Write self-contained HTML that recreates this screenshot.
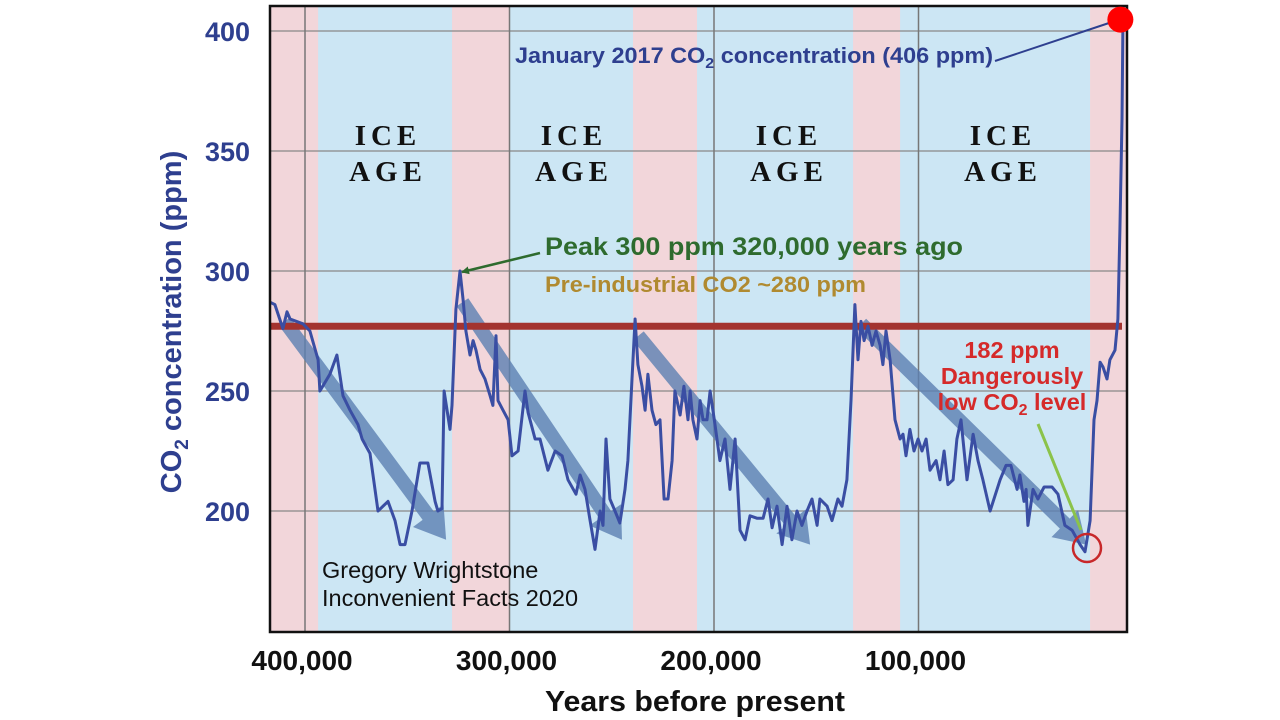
<!DOCTYPE html>
<html><head><meta charset="utf-8">
<style>
html,body{margin:0;padding:0;background:#fff;}
svg{display:block;font-family:"Liberation Sans",sans-serif;}
</style></head>
<body>
<svg id="chart" width="1280" height="720" viewBox="0 0 1280 720" xmlns="http://www.w3.org/2000/svg">
<defs>
<marker id="garrow" markerWidth="8" markerHeight="8" refX="7" refY="4" orient="auto" markerUnits="userSpaceOnUse"><path d="M0,0 L8,4 L0,8 Z" fill="#2e6b2e"/></marker>
</defs>
<g id="bands"></g>
<g id="grid"></g>
<g id="trends"></g>
<line id="preline" stroke="#a3332f" stroke-width="7"/>
<polyline id="series" fill="none" stroke="#3a4ea3" stroke-width="3" stroke-linejoin="round"/>
<rect x="270" y="6" width="857" height="626" fill="none" stroke="#111" stroke-width="2.5"/>
<g id="ytick-labels"></g>
<g id="xtick-labels"></g>
<text transform="translate(181,322) rotate(-90)" text-anchor="middle" font-size="29" font-weight="bold" fill="#2e3f8f">CO<tspan font-size="19" dy="7">2</tspan><tspan dy="-7"> concentration (ppm)</tspan></text>
<text x="695" y="711" text-anchor="middle" font-size="29" font-weight="bold" fill="#111" textLength="300" lengthAdjust="spacingAndGlyphs">Years before present</text>
<g font-family="'Liberation Serif',serif" font-weight="bold" font-size="29" fill="#111" text-anchor="middle" letter-spacing="5">
<text x="388" y="145">ICE<tspan x="388" dy="36">AGE</tspan></text>
<text x="574" y="145">ICE<tspan x="574" dy="36">AGE</tspan></text>
<text x="789" y="145">ICE<tspan x="789" dy="36">AGE</tspan></text>
<text x="1003" y="145">ICE<tspan x="1003" dy="36">AGE</tspan></text>
</g>
<text x="515" y="63" font-size="22" font-weight="bold" fill="#2e3f8f" textLength="478" lengthAdjust="spacingAndGlyphs">January 2017 CO<tspan font-size="15" dy="5">2</tspan><tspan dy="-5"> concentration (406 ppm)</tspan></text>
<line x1="995" y1="61" x2="1112" y2="22" stroke="#2e3f8f" stroke-width="2"/>
<circle id="nowdot" r="13" fill="#f00"/>
<text x="545" y="255" font-size="25" font-weight="bold" fill="#2e6b2e" textLength="418" lengthAdjust="spacingAndGlyphs">Peak 300 ppm 320,000 years ago</text>
<line x1="540" y1="253" x2="462" y2="272" stroke="#2e6b2e" stroke-width="2.5" marker-end="url(#garrow)"/>
<text x="545" y="292" font-size="22" font-weight="bold" fill="#b08a30" textLength="321" lengthAdjust="spacingAndGlyphs">Pre-industrial CO2 ~280 ppm</text>
<g font-size="23.5" font-weight="bold" fill="#d52a2a" text-anchor="middle">
<text x="1012" y="358">182 ppm<tspan x="1012" dy="26">Dangerously</tspan><tspan x="1012" dy="26">low CO</tspan><tspan font-size="16" dy="5">2</tspan><tspan dy="-5"> level</tspan></text>
</g>
<line x1="1038" y1="424" x2="1081" y2="530" stroke="#8bc34a" stroke-width="3"/>
<circle cx="1087" cy="548" r="14" fill="none" stroke="#c8282a" stroke-width="2.5"/>
<text x="322" y="578" font-size="23.5" fill="#111">Gregory Wrightstone<tspan x="322" dy="28">Inconvenient Facts 2020</tspan></text>
</svg>
<script>
// data (years in thousands before present, CO2 ppm)
const years=[417.1,414.7,410.8,408.8,407.3,401.0,397.6,393.6,392.7,387.8,384.4,381.4,378.0,374.1,372.1,368.2,364.3,359.4,356.0,353.5,351.1,347.7,343.8,339.9,336.4,335.0,333.0,332.0,329.1,328.1,326.2,324.2,322.7,321.3,319.3,317.8,316.4,314.4,312.0,309.5,308.1,306.6,305.6,303.2,300.7,298.8,295.8,292.4,290.9,287.5,285.1,281.2,277.7,274.3,271.4,267.5,265.5,263.1,260.6,258.2,255.7,254.3,252.8,250.9,248.4,246.0,243.5,242.1,240.1,238.6,237.2,235.2,233.7,232.3,230.3,228.4,226.4,224.4,222.5,220.5,219.1,216.6,214.7,212.7,211.7,210.3,208.3,206.8,205.4,203.4,201.9,199.5,197.1,194.6,192.2,189.7,187.3,184.8,182.4,179.0,176.0,173.6,171.6,169.2,166.7,164.3,161.9,159.4,157.0,154.5,152.1,149.6,148.2,144.7,142.3,139.4,137.4,135.0,133.0,131.1,129.6,128.1,126.6,124.7,122.7,120.8,118.8,117.4,115.9,113.9,111.5,109.0,107.6,106.1,104.2,102.2,100.2,98.3,96.3,94.4,91.4,89.5,87.5,85.6,83.1,81.2,79.2,76.3,73.3,70.9,68.5,65.0,60.1,57.2,54.8,51.8,50.4,48.4,47.4,46.5,44.0,41.6,38.6,34.7,31.8,28.4,24.9,21.0,18.6,16.1,14.2,12.7,11.2,9.8,7.8,6.4,3.9,2.5,1.5,0.5,0];
const ppm=[287,286,276,283,280,278,275,263,250,257,265,248,242,236,230,224,200,204,196,186,186,200,220,220,204,200,201,250,234,244,284,300,288,275,265,271,267,259,255,248,244,273,246,242,238,223,225,250,241,230,230,217,225,223,213,207,215,209,196,184,200,194,230,205,200,195,209,221,255,280,261,252,242,257,242,236,238,205,205,221,250,240,252,238,250,238,230,246,238,238,250,236,221,230,209,230,192,188,198,197,197,205,193,202,186,202,188,200,194,200,205,194,205,202,196,205,202,213,246,286,263,279,271,277,269,275,269,261,275,263,238,230,232,223,234,225,230,225,230,217,221,213,225,211,213,230,238,213,232,221,213,200,213,219,219,209,215,204,209,194,209,205,210,210,207,194,192,186,183,196,238,246,262,260,255,263,267,280,317,363,406];
const interglacials=[[417,393.6],[328.1,299.8],[239.6,208.3],[132,109],[16.1,-2]];
const yTicks=[400,350,300,250,200];
const xTicks=[400,300,200,100];
const xTickLabels=["400,000","300,000","200,000","100,000"];
const trendStarts=[[410,279],[323,287],[237,273],[128,278]];
const trendEnds=[[331,188],[245,188],[153,186],[18,186]];
const preindustrial=277;
const nowPoint=[0.8,406];

const NS="http://www.w3.org/2000/svg";
const X=t=>305+(400-t)*2.045;
const Y=v=>31+(400-v)*2.4;
function mk(tag,attrs,parent){const e=document.createElementNS(NS,tag);for(const k in attrs)e.setAttribute(k,attrs[k]);parent.appendChild(e);return e;}
const bands=document.getElementById('bands');
const bg=mk('rect',{x:270,y:6,width:857,height:626,fill:'#cce6f4'},bands);


interglacials.forEach((b,i)=>{
  const x1=Math.max(270,X(b[0])),x2=Math.min(1127,X(b[1]));
  const r=mk('rect',{x:x1,y:6,width:x2-x1,height:626,fill:'#f2d6da'},bands);
  
  
});
const grid=document.getElementById('grid');
const yl=document.getElementById('ytick-labels');
yTicks.forEach(v=>{
  const l=mk('line',{x1:270,x2:1127,y1:Y(v),y2:Y(v),stroke:'#888','stroke-width':1.3},grid);
  
  
  const t=mk('text',{x:250,y:Y(v)+10,'text-anchor':'end','font-size':27,'font-weight':'bold',fill:'#2e3f8f'},yl);
  t.textContent=v;
  
  
});
const xl=document.getElementById('xtick-labels');
xTicks.forEach((v,i)=>{
  const l=mk('line',{x1:X(v),x2:X(v),y1:6,y2:632,stroke:'#777','stroke-width':1.5},grid);
  
  
  const t=mk('text',{x:X(v)-3,y:670,'text-anchor':'middle','font-size':28,'font-weight':'bold',fill:'#111'},xl);
  t.textContent=xTickLabels[i];
  
  
});
const trends=document.getElementById('trends');
trendStarts.forEach((s,i)=>{
  const e=trendEnds[i];
  const x1=X(s[0]),y1=Y(s[1]),x2=X(e[0]),y2=Y(e[1]);
  const dx=x2-x1,dy=y2-y1,L=Math.hypot(dx,dy),ux=dx/L,uy=dy/L,px=-uy,py=ux;
  const hl=30,hw=19,w=7;
  const bx=x2-ux*hl,by=y2-uy*hl;
  const pts=[[x1+px*w,y1+py*w],[bx+px*w,by+py*w],[bx+px*hw,by+py*hw],[x2,y2],[bx-px*hw,by-py*hw],[bx-px*w,by-py*w],[x1-px*w,y1-py*w]];
  const p=mk('polygon',{points:pts.map(q=>q.join(',')).join(' '),fill:'#5b7fb2','fill-opacity':0.8},trends);
  
  
});
const pl=document.getElementById('preline');
pl.setAttribute('x1',270);pl.setAttribute('x2',1122);
pl.setAttribute('y1',Y(preindustrial));pl.setAttribute('y2',Y(preindustrial));
document.getElementById('series').setAttribute('points',years.map((t,i)=>X(t).toFixed(1)+','+Y(ppm[i]).toFixed(1)).join(' '));
const nd=document.getElementById('nowdot');
nd.setAttribute('cx',X(nowPoint[0])-1);nd.setAttribute('cy',Y(nowPoint[1])+3);
</script>
</body></html>
